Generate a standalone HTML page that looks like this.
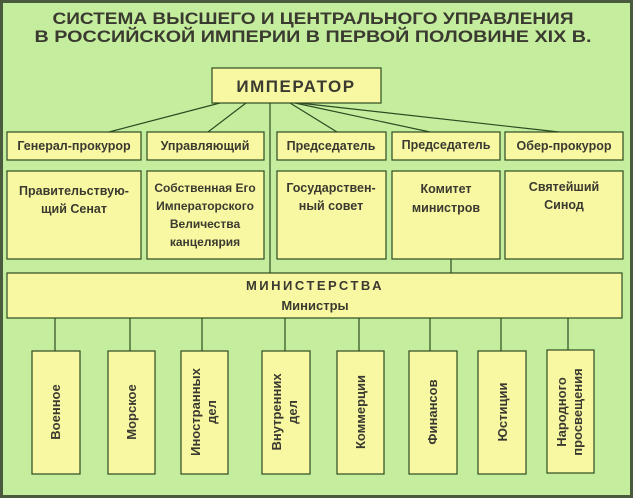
<!DOCTYPE html>
<html><head><meta charset="utf-8"><style>
html,body{margin:0;padding:0;background:#c4ee9e;}
svg{display:block}
text{font-family:"Liberation Sans",sans-serif;fill:#3a3a30;font-weight:bold}
</style></head><body>
<svg width="633" height="498" viewBox="0 0 633 498" xmlns="http://www.w3.org/2000/svg">
<rect x="1.5" y="1.5" width="630" height="495" fill="#c4ee9e" stroke="#4a5a3c" stroke-width="3"/>
<text x="313" y="24" font-size="17" text-anchor="middle" textLength="521" lengthAdjust="spacingAndGlyphs">СИСТЕМА  ВЫСШЕГО  И  ЦЕНТРАЛЬНОГО  УПРАВЛЕНИЯ</text>
<text x="313" y="42" font-size="17" text-anchor="middle" textLength="557" lengthAdjust="spacingAndGlyphs">В  РОССИЙСКОЙ  ИМПЕРИИ  В  ПЕРВОЙ  ПОЛОВИНЕ  XIX  В.</text>
<g stroke="#2e4a22" stroke-width="1.2" fill="none">
<line x1="220" y1="103" x2="109" y2="132"/>
<line x1="246" y1="103" x2="208" y2="132"/>
<line x1="290" y1="103" x2="337" y2="132"/>
<line x1="295" y1="103" x2="430" y2="132"/>
<line x1="299" y1="103" x2="559" y2="132"/>
<line x1="270" y1="103" x2="270" y2="273"/>
<line x1="451" y1="259" x2="451" y2="273"/>
<line x1="55" y1="318" x2="55" y2="351"/>
<line x1="130" y1="318" x2="130" y2="351"/>
<line x1="202" y1="318" x2="202" y2="351"/>
<line x1="285" y1="318" x2="285" y2="351"/>
<line x1="359" y1="318" x2="359" y2="351"/>
<line x1="430" y1="318" x2="430" y2="351"/>
<line x1="501" y1="318" x2="501" y2="351"/>
<line x1="568" y1="318" x2="568" y2="350"/>
</g>
<g fill="#f8f8a2" stroke="#2e4a22" stroke-width="1.2">
<rect x="212" y="68" width="169" height="35"/>
<rect x="7" y="132" width="134" height="28"/>
<rect x="147" y="132" width="117" height="28"/>
<rect x="277" y="132" width="109" height="28"/>
<rect x="392" y="132" width="108" height="28"/>
<rect x="505" y="132" width="118" height="28"/>
<rect x="7" y="171" width="134" height="88"/>
<rect x="147" y="171" width="117" height="88"/>
<rect x="277" y="171" width="109" height="88"/>
<rect x="392" y="171" width="108" height="88"/>
<rect x="505" y="171" width="118" height="88"/>
<rect x="7" y="273" width="615" height="45"/>
<rect x="32" y="351" width="48" height="123"/>
<rect x="108" y="351" width="47" height="123"/>
<rect x="181" y="351" width="47" height="123"/>
<rect x="262" y="351" width="48" height="123"/>
<rect x="337" y="351" width="47" height="123"/>
<rect x="409" y="351" width="48" height="123"/>
<rect x="478" y="351" width="48" height="123"/>
<rect x="547" y="350" width="47" height="123"/>
</g>
<text x="296" y="92" font-size="17" text-anchor="middle" letter-spacing="1.5">ИМПЕРАТОР</text>
<g font-size="12.5" text-anchor="middle">
<text x="74" y="150">Генерал-прокурор</text>
<text x="205" y="150">Управляющий</text>
<text x="331" y="150">Председатель</text>
<text x="446" y="149">Председатель</text>
<text x="564" y="150">Обер-прокурор</text>
<text x="74" y="195">Правительствую-</text>
<text x="74" y="213">щий  Сенат</text>
<text x="205" y="192" font-size="12">Собственная Его</text>
<text x="205" y="210" font-size="12">Императорского</text>
<text x="205" y="228" font-size="12">Величества</text>
<text x="205" y="246" font-size="12">канцелярия</text>
<text x="331" y="192">Государствен-</text>
<text x="331" y="210">ный  совет</text>
<text x="446" y="193">Комитет</text>
<text x="446" y="212">министров</text>
<text x="564" y="191">Святейший</text>
<text x="564" y="209">Синод</text>
<text x="315" y="290" font-size="13" letter-spacing="2.5">МИНИСТЕРСТВА</text>
<text x="315" y="310" font-size="13">Министры</text>
</g>
<g font-size="13" text-anchor="middle">
<text transform="translate(60,412) rotate(-90)">Военное</text>
<text transform="translate(136,412) rotate(-90)">Морское</text>
<text transform="translate(200,412) rotate(-90)">Иностранных</text>
<text transform="translate(216,412) rotate(-90)">дел</text>
<text transform="translate(281,412) rotate(-90)">Внутренних</text>
<text transform="translate(297,412) rotate(-90)">дел</text>
<text transform="translate(365,412) rotate(-90)">Коммерции</text>
<text transform="translate(437,412) rotate(-90)">Финансов</text>
<text transform="translate(507,412) rotate(-90)">Юстиции</text>
<text transform="translate(566,412) rotate(-90)">Народного</text>
<text transform="translate(582,412) rotate(-90)">просвещения</text>
</g>
</svg>
</body></html>
